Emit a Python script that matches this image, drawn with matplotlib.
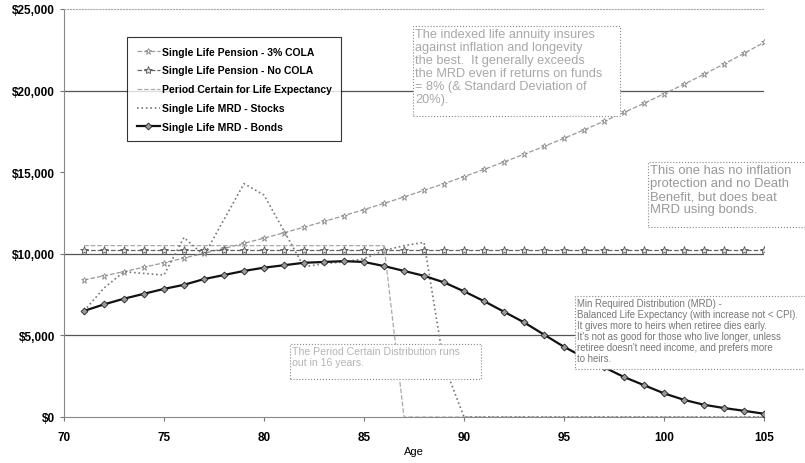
import numpy as np
import matplotlib.pyplot as plt
from matplotlib.patches import Rectangle
from matplotlib.ticker import FuncFormatter

plt.rcParams['font.family'] = ['Liberation Sans', 'DejaVu Sans']

ages = list(range(71, 106))

cola_3 = [8400, 8650, 8910, 9180, 9450, 9740, 10030, 10330, 10640, 10960,
          11290, 11630, 11980, 12340, 12710, 13090, 13480, 13890, 14300, 14730,
          15170, 15630, 16100, 16580, 17080, 17590, 18120, 18660, 19220, 19800,
          20390, 21000, 21630, 22280, 22950]
no_cola = [10250] * 35
period_certain = [10500] * 16 + [0] * 19
mrd_stocks = [6500, 7900, 8900, 8800, 8700, 11000, 9900, 12100, 14300, 13600,
              11400, 9200, 9400, 9500, 9700, 10200, 10500, 10700, 3200, 0,
              0, 0, 0, 0, 0, 0, 0, 0, 0, 0, 0, 0, 0, 0, 0]
mrd_bonds = [6500, 6900, 7250, 7550, 7850, 8100, 8450, 8700, 8950, 9150,
             9300, 9450, 9500, 9550, 9500, 9250, 8950, 8650, 8250, 7700,
             7100, 6450, 5800, 5050, 4300, 3650, 3050, 2450, 1950, 1450,
             1050, 750, 550, 380, 200]

grid_levels = [5000, 10000, 20000]
y_ticks = [0, 5000, 10000, 15000, 20000, 25000]
x_ticks = [70, 75, 80, 85, 90, 95, 100, 105]

W, H = 805, 464
fig = plt.figure(figsize=(W / 100, H / 100), dpi=100)
ax = fig.add_axes([64 / W, 1 - 418 / H, 700 / W, 408 / H])


def px(x, y):
    return x / W, 1 - y / H


for g in grid_levels:
    ax.axhline(g, color='#555555', lw=0.9, zorder=1)

ax.plot(ages, cola_3, color='#9a9a9a', ls='--', lw=0.9, marker='*', ms=5,
        mfc='white', mec='#8a8a8a', mew=0.6, label='Single Life Pension - 3% COLA', zorder=3)
ax.plot(ages, no_cola, color='#666666', ls='--', lw=0.9, marker='*', ms=6,
        mfc='#dddddd', mec='#555555', mew=0.6, label='Single Life Pension - No COLA', zorder=3)
ax.plot(ages, period_certain, color='#aaaaaa', ls='--', lw=0.9,
        label='Period Certain for Life Expectancy', zorder=3)
ax.plot(ages, mrd_stocks, color='#777777', ls=':', lw=1.2,
        label='Single Life MRD - Stocks', zorder=3)
ax.plot(ages, mrd_bonds, color='#111111', ls='-', lw=1.6, marker='D', ms=3.5,
        mfc='#999999', mec='#222222', mew=0.6, label='Single Life MRD - Bonds', zorder=4)

ax.set_xlim(70, 105)
ax.set_ylim(0, 25000)
ax.set_xticks(x_ticks)
ax.set_yticks(y_ticks)
ax.yaxis.set_major_formatter(FuncFormatter(lambda v, p: '${:,.0f}'.format(v)))
ax.tick_params(axis='both', labelsize=8.5, length=3, color='#777777')
ax.tick_params(axis='x', pad=7)
for lab in ax.get_xticklabels() + ax.get_yticklabels():
    lab.set_fontweight('bold')
ax.set_xlabel('Age', fontsize=8, labelpad=2)

ax.spines['right'].set_visible(False)
ax.spines['top'].set_color('#aaaaaa')
ax.spines['top'].set_linestyle(':')
ax.spines['left'].set_color('#888888')
ax.spines['bottom'].set_color('#888888')

leg = ax.legend(loc='upper left', bbox_to_anchor=px(122, 33), bbox_transform=fig.transFigure,
                frameon=True, fancybox=False, edgecolor='black',
                handlelength=2.2, handletextpad=0.2, labelspacing=0.85, borderpad=0.9,
                prop={'weight': 'bold', 'size': 7.5})
leg.get_frame().set_linewidth(0.8)

# annotation boxes
boxes = [
    ((413, 27, 620, 117), '#a8a8a8', 9.2,
     "The indexed life annuity insures\nagainst inflation and longevity\nthe best.  It generally exceeds\n"
     "the MRD even if returns on funds\n= 8% (& Standard Deviation of\n20%)."),
    ((648, 163, 808, 228), '#999999', 9.4,
     "This one has no inflation\nprotection and no Death\nBenefit, but does beat\nMRD using bonds."),
    ((290, 345, 481, 380), '#b5b5b5', 7.6,
     "The Period Certain Distribution runs\nout in 16 years."),
    ((575, 297, 808, 370), '#777777', 6.9,
     "Min Required Distribution (MRD) -\nBalanced Life Expectancy (with increase not < CPI).\n"
     "It gives more to heirs when retiree dies early.\nIt's not as good for those who live longer, unless\n"
     "retiree doesn't need income, and prefers more\nto heirs."),
]
for (x0, y0, x1, y1), col, fs, txt in boxes:
    fx0, fy1 = px(x0, y1)
    fig.patches.append(Rectangle((fx0, fy1), (x1 - x0) / W, (y1 - y0) / H,
                                 transform=fig.transFigure, fc='white', ec='#888888',
                                 ls=':', lw=0.8, zorder=5))
    tx, ty = px(x0 + 2, y0 + 2)
    fig.text(tx, ty, txt, color=col, fontsize=fs, va='top', ha='left',
             linespacing=1.12, zorder=6)

plt.savefig('out.png', dpi=100)
